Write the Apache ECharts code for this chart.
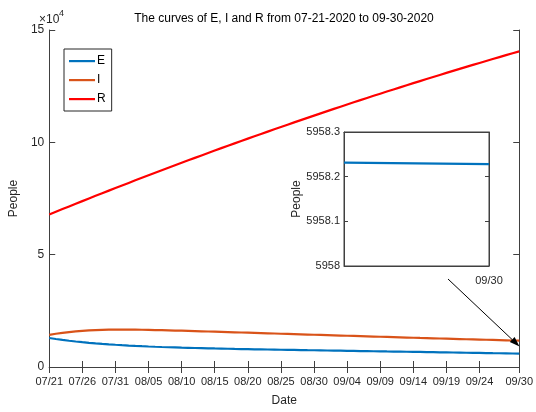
<!DOCTYPE html>
<html>
<head>
<meta charset="utf-8">
<script src="https://cdn.jsdelivr.net/npm/echarts@6/dist/echarts.min.js"></script>
<style>html,body{margin:0;padding:0;background:#fff}#c{width:536px;height:412px}</style>
</head>
<body>
<div id="c"></div>
<script>
var FONT = "'Liberation Sans', Arial, sans-serif";
var dates = ['07/21','07/22','07/23','07/24','07/25','07/26','07/27','07/28','07/29','07/30','07/31',
'08/01','08/02','08/03','08/04','08/05','08/06','08/07','08/08','08/09','08/10','08/11','08/12','08/13','08/14','08/15','08/16','08/17','08/18','08/19','08/20','08/21','08/22','08/23','08/24','08/25','08/26','08/27','08/28','08/29','08/30','08/31',
'09/01','09/02','09/03','09/04','09/05','09/06','09/07','09/08','09/09','09/10','09/11','09/12','09/13','09/14','09/15','09/16','09/17','09/18','09/19','09/20','09/21','09/22','09/23','09/24','09/25','09/26','09/27','09/28','09/29','09/30'];
// values in units of 10^4 people
var E = [1.29,1.245,1.205,1.168,1.135,1.105,1.078,1.053,1.03,1.009,0.99,0.972,0.955,0.94,0.926,0.913,0.901,0.89,0.88,0.871,0.862,0.854,0.846,0.839,0.832,0.825,0.819,0.813,0.803,0.798,
0.793,0.788,0.783,0.778,0.773,0.768,0.764,0.759,0.754,0.749,0.745,0.74,0.735,0.73,0.726,0.721,0.716,0.711,0.707,0.702,0.697,0.692,0.688,0.683,0.678,0.673,0.669,0.664,0.659,0.654,0.65,0.645,0.64,0.635,0.631,0.626,0.621,0.616,0.612,0.607,0.601,0.5958];
var I = [1.43,1.48,1.52,1.555,1.585,1.61,1.628,1.642,1.652,1.66,1.664,1.666,1.665,1.662,1.657,1.651,1.645,1.638,1.631,1.623,1.615,1.607,1.598,1.589,1.58,1.571,1.562,1.553,1.544,1.535,
1.526,1.517,1.508,1.499,1.49,1.481,1.472,1.463,1.454,1.445,1.436,1.427,1.418,1.409,1.4,1.391,1.382,1.373,1.364,1.355,1.346,1.337,1.328,1.319,1.31,1.301,1.292,1.284,1.276,1.268,1.26,1.252,1.244,1.236,1.228,1.22,1.212,1.204,1.196,1.188,1.18,1.172];
var R = [6.79,6.91,7.029,7.148,7.266,7.384,7.501,7.618,7.734,7.85,7.965,8.08,8.194,8.308,8.421,8.534,8.646,8.758,8.869,8.98,9.09,9.2,9.309,9.418,9.526,9.634,9.741,9.848,9.954,10.06,
10.165,10.27,10.374,10.478,10.581,10.684,10.786,10.888,10.989,11.09,11.19,11.29,11.389,11.488,11.586,11.684,11.781,11.878,11.974,12.07,12.165,12.26,12.354,12.448,12.541,12.634,12.726,12.818,12.909,13.0,
13.09,13.18,13.269,13.358,13.446,13.534,13.621,13.708,13.794,13.88,13.965,14.05];
var yTicks = [0, 5, 10, 15];
var insetX = ['', '09/30'];
var insetE = [5958.2315, 5958.228];
var insetTicks = [5958, 5958.1, 5958.2, 5958.3];

var AX = '#404040';
var TXT = '#262626';
var LEG_ICON = 'path://M0,0L0,0M0,14L0,14M0,6L26,6L26,8.2L0,8.2Z';
function showMain(i){ return (i % 5 === 0 && i <= 65) || i === 71; }

var chart = echarts.init(document.getElementById('c'), null, {renderer:'canvas'});
chart.setOption({
  animation: false,
  backgroundColor: '#fff',
  textStyle: {fontFamily: FONT},
  title: {
    text: 'The curves of E, I and R from 07-21-2020 to 09-30-2020',
    left: 279, top: 8, textAlign: 'center',
    textStyle: {fontFamily: FONT, fontSize: 12, fontWeight: 'normal', color: '#000'}
  },
  legend: {
    data: [{name:'E', icon: LEG_ICON},{name:'I', icon: LEG_ICON},{name:'R', icon: LEG_ICON}],
    orient: 'vertical', left: 64, top: 49,
    itemWidth: 26, itemHeight: 14, itemGap: 5, padding: [5,6,5,5],
    backgroundColor: '#fff', borderColor: '#262626', borderWidth: 1, borderRadius: 0,
    textStyle: {fontFamily: FONT, fontSize: 12, color: '#000', padding: [0,0,0,-3]}
  },
  grid: [
    {left: 38, top: 30, right: 14, bottom: 44, containLabel: false},
    {left: 344, top: 132, right: 47, bottom: 146, show: true, backgroundColor: '#fff', borderColor: AX, borderWidth: 1, z: 5}
  ],
  xAxis: [
    {type:'category', gridIndex:0, data: dates, boundaryGap:false, position:'bottom',
     name:'Date', nameLocation:'middle', nameGap: 28,
     nameTextStyle:{fontFamily:FONT, fontSize:12, color:TXT},
     axisLine:{lineStyle:{color:AX, width:1}},
     axisTick:{inside:true, length:6, interval: function(i){return showMain(i);}, lineStyle:{color:AX}},
     axisLabel:{interval: function(i){return showMain(i);}, margin: 9, fontFamily:FONT, fontSize:11, color:TXT},
     splitLine:{show:false}},
    {type:'category', gridIndex:0, data: dates, boundaryGap:false, position:'top',
     axisLine:{lineStyle:{color:AX, width:1}},
     axisTick:{inside:true, length:6, interval: function(i){return showMain(i);}, lineStyle:{color:AX}},
     axisLabel:{show:false}, splitLine:{show:false}},
    {type:'category', gridIndex:1, data: insetX, boundaryGap:false, position:'bottom', z: 6,
     axisLine:{lineStyle:{color:AX, width:1}},
     axisTick:{inside:true, length:4, interval: function(i){return i===1;}, lineStyle:{color:AX}},
     axisLabel:{interval: function(i){return i===1;}, margin: 9, fontFamily:FONT, fontSize:11, color:TXT},
     splitLine:{show:false}},
    {type:'category', gridIndex:1, data: insetX, boundaryGap:false, position:'top', z: 6,
     axisLine:{lineStyle:{color:AX, width:1}},
     axisTick:{inside:true, length:4, interval: function(i){return i===1;}, lineStyle:{color:AX}},
     axisLabel:{show:false}, splitLine:{show:false}}
  ],
  yAxis: [
    {type:'value', gridIndex:0, min: yTicks[0], max: yTicks[yTicks.length-1], interval: 5, position:'left',
     name:'People', nameLocation:'middle', nameGap: 21,
     nameTextStyle:{fontFamily:FONT, fontSize:12, color:TXT},
     axisLine:{show:true, lineStyle:{color:AX, width:1}},
     axisTick:{show:true, inside:true, length:6, lineStyle:{color:AX}},
     axisLabel:{margin: 5, fontFamily:FONT, fontSize:12, color:TXT},
     splitLine:{show:false}},
    {type:'value', gridIndex:0, min: yTicks[0], max: yTicks[yTicks.length-1], interval: 5, position:'right',
     axisLine:{show:true, lineStyle:{color:AX, width:1}},
     axisTick:{show:true, inside:true, length:6, lineStyle:{color:AX}},
     axisLabel:{show:false}, splitLine:{show:false}},
    {type:'value', gridIndex:1, min: insetTicks[0], max: insetTicks[insetTicks.length-1], interval: 0.1, position:'left', z: 6,
     name:'People', nameLocation:'middle', nameGap: 40,
     nameTextStyle:{fontFamily:FONT, fontSize:12, color:TXT},
     axisLine:{show:true, lineStyle:{color:AX, width:1}},
     axisTick:{show:true, inside:true, length:4, lineStyle:{color:AX}},
     axisLabel:{margin: 4, fontFamily:FONT, fontSize:11, color:TXT,
       formatter: function(v){ return (Math.round(v*10)/10).toString(); }},
     splitLine:{show:false}},
    {type:'value', gridIndex:1, min: insetTicks[0], max: insetTicks[insetTicks.length-1], interval: 0.1, position:'right', z: 6,
     axisLine:{show:true, lineStyle:{color:AX, width:1}},
     axisTick:{show:true, inside:true, length:4, lineStyle:{color:AX}},
     axisLabel:{show:false}, splitLine:{show:false}}
  ],
  series: [
    {name:'E', type:'line', xAxisIndex:0, yAxisIndex:0, data:E, symbol:'none', lineStyle:{color:'#0072BD', width:2.2}, itemStyle:{color:'#0072BD'}, z:3},
    {name:'I', type:'line', xAxisIndex:0, yAxisIndex:0, data:I, symbol:'none', lineStyle:{color:'#D95319', width:2.2}, itemStyle:{color:'#D95319'}, z:3},
    {name:'R', type:'line', xAxisIndex:0, yAxisIndex:0, data:R, symbol:'none', lineStyle:{color:'#FF0000', width:2.2}, itemStyle:{color:'#FF0000'}, z:3},
    {name:'E inset', type:'line', xAxisIndex:2, yAxisIndex:2, data:insetE, symbol:'none', lineStyle:{color:'#0072BD', width:2.2}, z:7}
  ],
  graphic: [
    {type:'text', left: 39, top: 14, z: 10, style:{text:'×10', fontFamily:FONT, fontSize:12, fill:TXT}},
    {type:'text', left: 59, top: 9, z: 10, style:{text:'4', fontFamily:FONT, fontSize:9, fill:TXT}},
    {type:'line', z: 10, shape:{x1:448, y1:279, x2:512.2, y2:339.6}, style:{stroke:'#000', lineWidth:1}},
    {type:'polygon', z: 10, shape:{points:[[519.5,346.5],[509.8,342.1],[514.6,337.1]]}, style:{fill:'#000'}}
  ]
});
</script>
</body>
</html>
